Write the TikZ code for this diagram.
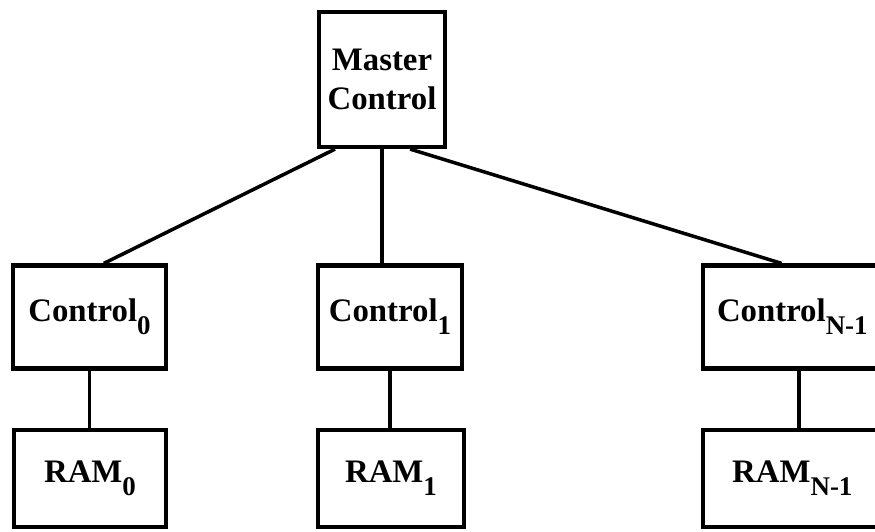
\documentclass[tikz,border=0pt]{standalone}
\usepackage{fontspec}
\setmainfont{Liberation Serif}
\usepackage{tikz}

\tikzset{
  unit/.style={draw,line width=3.6pt,align=center,inner sep=2pt,
    font=\fontsize{28}{33}\selectfont\bfseries},
  wire/.style={line width=3pt}
}
\newcommand{\idx}[1]{\raisebox{-11pt}{\fontsize{23}{23}\selectfont #1}}

\begin{document}
\begin{tikzpicture}
\useasboundingbox (0,0) rectangle (26.25,15.93);
\node[unit,minimum width=3.78cm,minimum height=4.05cm] (master) at (11.46,13.545) {Master\\Control};
\node[unit,minimum width=4.59cm,minimum height=3.09cm] (ctrl0) at (2.685,6.42) {Control\idx{0}};
\node[unit,minimum width=4.32cm,minimum height=3.09cm] (ctrl1) at (11.7,6.42) {Control\idx{1}};
\node[unit,minimum width=5.76cm,minimum height=3.09cm] (ctrln) at (23.97,6.42) {Control\idx{N-1}\hspace*{0.4cm}};
\node[unit,minimum width=4.56cm,minimum height=2.91cm] (ram0) at (2.7,1.575) {RAM\idx{0}};
\node[unit,minimum width=4.38cm,minimum height=2.91cm] (ram1) at (11.73,1.575) {RAM\idx{1}};
\node[unit,minimum width=5.76cm,minimum height=2.91cm] (ramn) at (23.97,1.575) {RAM\idx{N-1}\hspace*{0.4cm}};
\draw[wire] (master.-124) -- (ctrl0.75);
\draw[wire] (master.south) -- (master.south |- ctrl1.north);
\draw[wire] (master.-68) -- (ctrln.108);
\draw[wire] (ctrl0.south) -- (ctrl0.south |- ram0.north);
\draw[wire] (ctrl1.south) -- (ctrl1.south |- ram1.north);
\draw[wire] (ctrln.south) -- (ctrln.south |- ramn.north);
\end{tikzpicture}
\end{document}
